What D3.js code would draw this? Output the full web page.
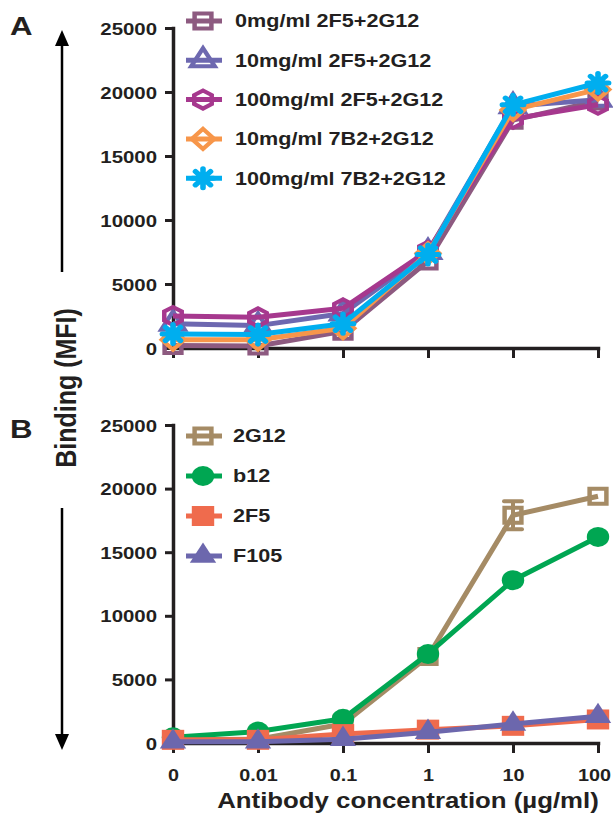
<!DOCTYPE html>
<html><head><meta charset="utf-8">
<script src="https://cdn.jsdelivr.net/npm/d3@7"></script>
<style>
body{margin:0;background:#fff}
text{font-family:"Liberation Sans",Arial,Helvetica,sans-serif;font-weight:bold;fill:#231f20}
</style>
</head><body>
<svg id="c" width="613" height="825"></svg>
<script>
// ---------- data ----------
const concentrations = ["0", "0.01", "0.1", "1", "10", "100"];
const yTickValues = [0, 5000, 10000, 15000, 20000, 25000];

// Panel A
const seriesNamesA = ["0mg/ml 2F5+2G12", "10mg/ml 2F5+2G12", "100mg/ml 2F5+2G12", "10mg/ml 7B2+2G12", "100mg/ml 7B2+2G12"];
const a_0mg_2F5 = [200, 150, 1300, 6800, 17800, 19300];
const a_10mg_2F5 = [1900, 1750, 2700, 7500, 18900, 19400];
const a_100mg_2F5 = [2500, 2400, 3100, 7600, 17900, 19000];
const a_10mg_7B2 = [650, 650, 1550, 7400, 18600, 20200];
const a_100mg_7B2 = [1100, 1050, 1900, 7300, 19000, 20700];
const colorsA = ["#8d5a80", "#6d68b0", "#a6388e", "#f7964a", "#00aeef"];

// Panel B
const seriesNamesB = ["2G12", "b12", "2F5", "F105"];
const b_2G12 = [250, 300, 1500, 6800, 17900, 19400];
const b_2G12_err = [0, 0, 0, 0, 1100, 0];
const b_b12 = [450, 900, 1900, 7000, 12800, 16200];
const b_2F5 = [250, 250, 700, 1050, 1350, 1850];
const b_F105 = [100, 100, 300, 850, 1500, 2100];
const colorsB = ["#a58b65", "#00a652", "#ef6b4d", "#6c67ad"];

// ---------- setup ----------
const SX = 1.2;
const ink = "#231f20";
const svg = d3.select("#c");

const x = d3.scalePoint().domain(concentrations).range([173, 598]);
const yA = d3.scaleLinear().domain([0, 25000]).range([348, 28]);
const yB = d3.scaleLinear().domain([0, 25000]).range([743, 425]);

function label(g, px, py, s, size, anchor, rot) {
  return g.append("text")
    .attr("transform", `translate(${px},${py})` + (rot ? " rotate(-90) scale(1,1.2)" : ` scale(${SX},1)`))
    .attr("text-anchor", anchor || "start")
    .style("font-size", size + "px")
    .text(s);
}

// custom symbol types
const hexagon = { draw(ctx, size) { const r = Math.sqrt(size);
  for (let i = 0; i < 6; i++) { const a = Math.PI / 6 + i * Math.PI / 3;
    const px = r * Math.cos(a), py = r * Math.sin(a);
    i ? ctx.lineTo(px, py) : ctx.moveTo(px, py); } ctx.closePath(); } };
const diamond = { draw(ctx, size) { const r = Math.sqrt(size);
  ctx.moveTo(0, -r); ctx.lineTo(r, 0); ctx.lineTo(0, r); ctx.lineTo(-r, 0); ctx.closePath(); } };
const asterisk = { draw(ctx, size) { const r = Math.sqrt(size);
  for (let i = 0; i < 4; i++) { const a = i * Math.PI / 4;
    ctx.moveTo(r * Math.cos(a), r * Math.sin(a)); ctx.lineTo(-r * Math.cos(a), -r * Math.sin(a)); } } };

const markersA = [
  { type: d3.symbolSquare, size: 225, fill: "none", sw: 4 },
  { type: d3.symbolTriangle, size: 190, fill: "none", sw: 4 },
  { type: hexagon, size: 81, fill: "none", sw: 4 },
  { type: diamond, size: 100, fill: "none", sw: 4 },
  { type: asterisk, size: 90, fill: "none", sw: 5 }
];
const markersB = [
  { type: d3.symbolSquare, size: 225, fill: "none", sw: 4 },
  { type: d3.symbolCircle, size: Math.PI * 100, fill: "c", sw: 0 },
  { type: d3.symbolSquare, size: 400, fill: "c", sw: 0 },
  { type: d3.symbolTriangle, size: 240, fill: "c", sw: 0 }
];

function drawMarker(g, px, py, m, color) {
  g.append("path")
    .attr("d", d3.symbol().type(m.type).size(m.size)())
    .attr("transform", `translate(${px},${py}) scale(1.12,1)`)
    .attr("fill", m.fill === "c" ? color : "none")
    .attr("stroke", color)
    .attr("stroke-width", m.sw)
    .attr("stroke-linecap", "round")
    .attr("stroke-linejoin", "miter");
}

function drawAxes(y, showXLabels) {
  const ga = svg.append("g").attr("transform", "translate(173,0)")
    .call(d3.axisLeft(y).tickValues(yTickValues).tickSize(8).tickSizeOuter(0).tickPadding(8).tickFormat(d3.format("d")));
  ga.select(".domain").attr("stroke", ink).attr("stroke-width", 3.5).attr("stroke-linecap", "square");
  ga.selectAll(".tick line").attr("stroke", ink).attr("stroke-width", 3);
  ga.selectAll(".tick text").each(function () {
    const t = d3.select(this); const tx = +t.attr("x");
    t.attr("x", 0).attr("transform", `translate(${tx},0) scale(${SX},1)`).attr("dy", "0.36em")
      .style("font-size", "17px");
  });
  const gx = svg.append("g").attr("transform", `translate(0,${y(0)})`)
    .call(d3.axisBottom(x).tickSize(10).tickSizeOuter(0).tickPadding(16)
      .tickFormat(showXLabels ? (d => d) : () => ""));
  gx.select(".domain").attr("stroke", ink).attr("stroke-width", 3.5).attr("stroke-linecap", "square");
  gx.selectAll(".tick line").attr("stroke", ink).attr("stroke-width", 3);
  gx.selectAll(".tick text").each(function (d, i, nodes) {
    const t = d3.select(this); const ty = +t.attr("y");
    const shift = i === nodes.length - 1 ? -4 : 0;
    t.attr("y", 0).attr("transform", `translate(${shift},${ty}) scale(${SX},1)`).style("font-size", "16.5px");
  });
}

function drawSeries(y, values, color, m, err) {
  const g = svg.append("g");
  if (err) {
    values.forEach((v, i) => {
      if (!err[i]) return;
      const cx = x(concentrations[i]);
      g.append("line").attr("x1", cx).attr("x2", cx).attr("y1", y(v - err[i])).attr("y2", y(v + err[i]))
        .attr("stroke", color).attr("stroke-width", 4);
      [v - err[i], v + err[i]].forEach(e => g.append("line")
        .attr("x1", cx - 9).attr("x2", cx + 9).attr("y1", y(e)).attr("y2", y(e))
        .attr("stroke", color).attr("stroke-width", 4).attr("stroke-linecap", "round"));
    });
  }
  const line = d3.line().x((d, i) => x(concentrations[i])).y(d => y(d));
  g.append("path").attr("d", line(values)).attr("fill", "none").attr("stroke", color)
    .attr("stroke-width", 5).attr("stroke-linejoin", "round");
  values.forEach((v, i) => drawMarker(g, x(concentrations[i]), y(v), m, color));
}

function drawLegend(names, colors, markers, y0, dy, textX) {
  names.forEach((n, i) => {
    const g = svg.append("g");
    const cy = y0 + i * dy;
    g.append("line").attr("x1", 186).attr("x2", 222).attr("y1", cy).attr("y2", cy)
      .attr("stroke", colors[i]).attr("stroke-width", 5);
    drawMarker(g, 203, cy, markers[i], colors[i]);
    label(g, textX, cy, n, 18).attr("dy", "0.36em");
  });
}

// ---------- Panel A ----------
drawAxes(yA, false);
const dataA = [a_0mg_2F5, a_10mg_2F5, a_100mg_2F5, a_10mg_7B2, a_100mg_7B2];
dataA.forEach((vals, i) => drawSeries(yA, vals, colorsA[i], markersA[i]));
drawLegend(seriesNamesA, colorsA, markersA, 21, 39.3, 235);

// ---------- Panel B ----------
drawAxes(yB, true);
drawSeries(yB, b_2G12, colorsB[0], markersB[0], b_2G12_err);
drawSeries(yB, b_b12, colorsB[1], markersB[1]);
drawSeries(yB, b_2F5, colorsB[2], markersB[2]);
drawSeries(yB, b_F105, colorsB[3], markersB[3]);
drawLegend(seriesNamesB, colorsB, markersB, 436, 40, 233);

// ---------- titles / labels ----------
label(svg, 10, 35, "A", 26);
label(svg, 10, 438, "B", 26);
label(svg, 408, 808, "Antibody concentration (µg/ml)", 21.5, "middle");
label(svg, 76, 388, "Binding (MFI)", 25, "middle", true);

// arrows
svg.append("line").attr("x1", 62).attr("x2", 62).attr("y1", 272).attr("y2", 44)
  .attr("stroke", "#000").attr("stroke-width", 2.5);
svg.append("path").attr("d", "M62,30 L55,46 L69,46 Z").attr("fill", "#000");
svg.append("line").attr("x1", 62).attr("x2", 62).attr("y1", 508).attr("y2", 736)
  .attr("stroke", "#000").attr("stroke-width", 2.5);
svg.append("path").attr("d", "M62,750 L55,734 L69,734 Z").attr("fill", "#000");
</script>
</body></html>
